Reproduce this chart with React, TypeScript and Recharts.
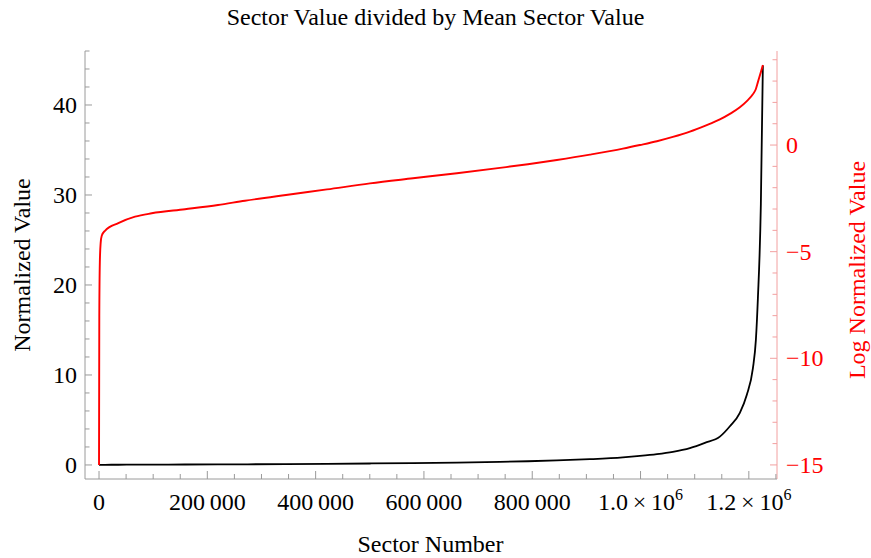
import React from "react";
import { LineChart, Line, XAxis, YAxis } from "recharts";

const sectors = [0, 500, 1500, 3000, 5000, 11000, 35600, 66500, 97300, 158800, 219700, 269500, 345200, 420900, 500300, 579700, 660900, 740300, 792000, 845500, 906500, 967400, 998800, 1030200, 1059700, 1091100, 1118800, 1146500, 1165000, 1183400, 1196300, 1207400, 1213000, 1216700, 1222200, 1225900];
const normalized = [0, 0.0003, 0.004, 0.01, 0.014, 0.018, 0.026, 0.035, 0.041, 0.049, 0.06, 0.074, 0.096, 0.125, 0.165, 0.21, 0.27, 0.34, 0.41, 0.5, 0.64, 0.84, 1.0, 1.2, 1.46, 1.88, 2.46, 3.15, 4.3, 5.8, 7.8, 10.7, 13.9, 18.5, 29, 44.4];
const logNormalized = [-15, -8, -5.5, -4.6, -4.25, -4.02, -3.66, -3.36, -3.2, -3.01, -2.81, -2.61, -2.34, -2.08, -1.8, -1.56, -1.32, -1.07, -0.9, -0.7, -0.45, -0.17, 0.0, 0.18, 0.38, 0.63, 0.9, 1.2, 1.46, 1.77, 2.06, 2.38, 2.63, 2.95, 3.42, 3.75];

const xMajor = [0, 200000, 400000, 600000, 800000, 1000000, 1200000];
const xTicks = [0, 50000, 100000, 150000, 200000, 250000, 300000, 350000, 400000, 450000, 500000, 550000, 600000, 650000, 700000, 750000, 800000, 850000, 900000, 950000, 1000000, 1050000, 1100000, 1150000, 1200000, 1250000];
const leftMajor = [0, 10, 20, 30, 40];
const leftTicks = [0, 2, 4, 6, 8, 10, 12, 14, 16, 18, 20, 22, 24, 26, 28, 30, 32, 34, 36, 38, 40, 42, 44, 46];
const rightMajor = [-15, -10, -5, 0];
const rightTicks = [-15, -14, -13, -12, -11, -10, -9, -8, -7, -6, -5, -4, -3, -2, -1, 0, 1, 2, 3, 4];

const data = sectors.map((s, i) => ({ sector: s, norm: normalized[i], logNorm: logNormalized[i] }));

const FONT = "'Liberation Serif', 'DejaVu Serif', serif";
const GRAY = "#9a9a9a";
const PINK = "#f2a0a0";
const FS = 24;

const fmtX = (v: number) => {
  if (v === 0) return <tspan>0</tspan>;
  if (v >= 1000000) {
    const m = (v / 1000000).toFixed(1);
    return (
      <>
        <tspan>{m + "\u2009\u00d7\u200910"}</tspan>
        <tspan dy={-10} fontSize={16}>6</tspan>
      </>
    );
  }
  const s = String(v);
  return <tspan>{s.slice(0, s.length - 3) + "\u2009" + s.slice(-3)}</tspan>;
};

const BottomTick = (props: any) => {
  const { x, y, payload } = props;
  const v = payload.value;
  const major = xMajor.includes(v);
  return (
    <g>
      <line x1={x} x2={x} y1={y} y2={y - (major ? 8 : 5)} stroke={GRAY} strokeWidth={1} />
      {major && (
        <text x={x} y={y + 31} textAnchor="middle" fontFamily={FONT} fontSize={FS} fill="#000">
          {fmtX(v)}
        </text>
      )}
    </g>
  );
};

const TopTick = (props: any) => {
  const { x, y, payload } = props;
  const major = xMajor.includes(payload.value);
  return <line x1={x} x2={x} y1={y} y2={y + (major ? 7 : 5)} stroke={GRAY} strokeWidth={1} />;
};

const LeftTick = (props: any) => {
  const { x, y, payload } = props;
  const v = payload.value;
  const major = leftMajor.includes(v);
  return (
    <g>
      <line x1={x} x2={x + (major ? 7 : 4.5)} y1={y} y2={y} stroke={GRAY} strokeWidth={1} />
      {major && (
        <text x={x - 8} y={y + 8} textAnchor="end" fontFamily={FONT} fontSize={FS} fill="#000">
          {String(v)}
        </text>
      )}
    </g>
  );
};

const RightTick = (props: any) => {
  const { x, y, payload } = props;
  const v = payload.value;
  const major = rightMajor.includes(v);
  return (
    <g>
      <line x1={x} x2={x - (major ? 7 : 4.5)} y1={y} y2={y} stroke={PINK} strokeWidth={1} />
      {major && (
        <text x={x + 9} y={y + 8} textAnchor="start" fontFamily={FONT} fontSize={FS} fill="#ff0000">
          {v < 0 ? "\u2212" + String(-v) : String(v)}
        </text>
      )}
    </g>
  );
};

export default function App() {
  return (
    <div style={{ position: "absolute", left: 0, top: 0, width: 871, height: 558, background: "#fff" }}>
      <LineChart width={871} height={558} data={data} margin={{ top: 51, right: 0, bottom: 0, left: 0 }}>
        <XAxis
          xAxisId="b"
          dataKey="sector"
          type="number"
          domain={[-25900, 1252000]}
          allowDataOverflow
          ticks={xTicks}
          interval={0}
          tickSize={0}
          tickMargin={0}
          tickLine={false}
          axisLine={{ stroke: GRAY }}
          tick={<BottomTick />}
          height={79}
        />
        <XAxis
          xAxisId="t"
          orientation="top"
          dataKey="sector"
          type="number"
          domain={[-25900, 1252000]}
          allowDataOverflow
          ticks={xTicks}
          interval={0}
          tickSize={0}
          tickMargin={0}
          tickLine={false}
          axisLine={{ stroke: GRAY }}
          tick={<TopTick />}
          height={0}
        />
        <YAxis
          yAxisId="l"
          type="number"
          domain={[-1.56, 46.0]}
          allowDataOverflow
          ticks={leftTicks}
          interval={0}
          tickSize={0}
          tickMargin={0}
          tickLine={false}
          axisLine={{ stroke: GRAY }}
          tick={<LeftTick />}
          width={85}
        />
        <YAxis
          yAxisId="r"
          orientation="right"
          type="number"
          domain={[-15.66, 4.41]}
          allowDataOverflow
          ticks={rightTicks}
          interval={0}
          tickSize={0}
          tickMargin={0}
          tickLine={false}
          axisLine={{ stroke: PINK }}
          tick={<RightTick />}
          width={94}
        />
        <Line xAxisId="b" yAxisId="l" type="monotone" dataKey="norm" stroke="#000" strokeWidth={1.8} dot={false} isAnimationActive={false} />
        <Line xAxisId="b" yAxisId="r" type="monotone" dataKey="logNorm" stroke="#ff0000" strokeWidth={1.9} dot={false} isAnimationActive={false} />
      </LineChart>
      <div style={{ position: "absolute", left: 0, width: 871, top: 3, textAlign: "center", fontFamily: FONT, fontSize: FS, color: "#000", lineHeight: "28px" }}>
        Sector Value divided by Mean Sector Value
      </div>
      <div style={{ position: "absolute", left: 0, width: 871, top: 530, textAlign: "center", fontFamily: FONT, fontSize: FS, color: "#000", lineHeight: "28px" }}>
        <span style={{ position: "relative", left: -5 }}>Sector Number</span>
      </div>
      <div style={{ position: "absolute", left: 22, top: 265, transform: "translate(-50%, -50%) rotate(-90deg)", whiteSpace: "nowrap", fontFamily: FONT, fontSize: FS, color: "#000", lineHeight: "28px" }}>
        Normalized Value
      </div>
      <div style={{ position: "absolute", left: 857, top: 270, transform: "translate(-50%, -50%) rotate(-90deg)", whiteSpace: "nowrap", fontFamily: FONT, fontSize: FS, color: "#ff0000", lineHeight: "28px" }}>
        Log Normalized Value
      </div>
    </div>
  );
}
